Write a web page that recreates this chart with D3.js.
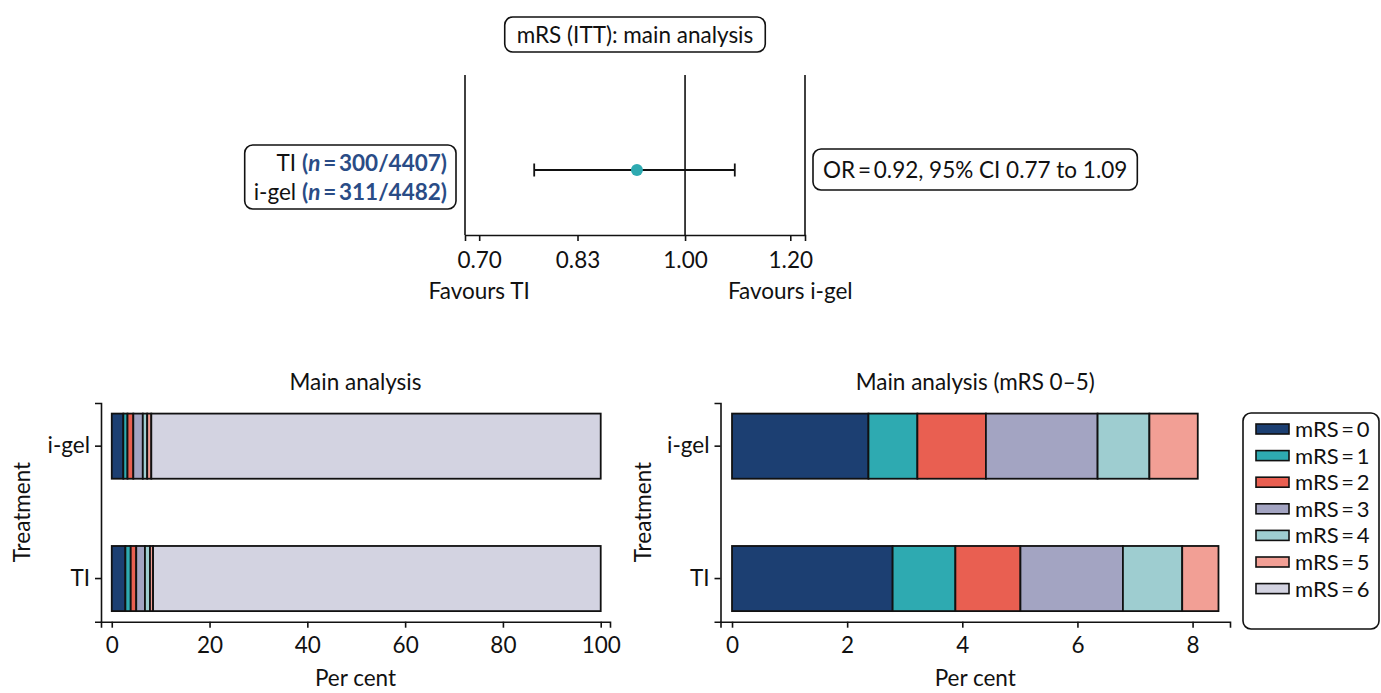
<!DOCTYPE html>
<html>
<head>
<meta charset="utf-8">
<script src="https://cdn.jsdelivr.net/npm/d3@7"></script>
<style>
  body { margin: 0; background: #fff; }
  svg text { font-family: Lato, "Open Sans", sans-serif; fill: #111; }
</style>
</head>
<body>
<script>
'use strict';

// forest plot values
const forestTicks = [0.70, 0.83, 1.00, 1.20];
const forestSides = ['Favours TI', 'Favours i-gel'];
const oddsRatio = [0.92];
const ciLow = [0.77];
const ciHigh = [1.09];

// stacked bar values (per cent)
const groups = ['i-gel', 'TI'];
const mrsLabels = ['mRS\u2009=\u20090', 'mRS\u2009=\u20091', 'mRS\u2009=\u20092', 'mRS\u2009=\u20093',
  'mRS\u2009=\u20094', 'mRS\u2009=\u20095', 'mRS\u2009=\u20096'];
const igelPct = [2.37, 0.85, 1.19, 1.94, 0.90, 0.84, 91.91];
const tiPct = [2.79, 1.09, 1.13, 1.78, 1.03, 0.63, 91.55];
const mainTicks = [0, 20, 40, 60, 80, 100];
const zoomTicks = [0, 2, 4, 6, 8];

const colours = ['#1c3f72', '#2eaab1', '#e95f51', '#a3a4c2', '#9ecdd0', '#f29f95', '#d3d3e1'];

const W = 1381, H = 693;
const FS = 22.5;

const svg = d3.select('body').append('svg')
  .attr('width', W)
  .attr('height', H);

function roundBox(g, pad) {
  const bb = g.node().getBBox();
  g.insert('rect', ':first-child')
    .attr('x', bb.x - pad[0]).attr('y', bb.y - pad[1])
    .attr('width', bb.width + 2 * pad[0]).attr('height', bb.height + 2 * pad[1])
    .attr('rx', 8)
    .attr('fill', '#fff').attr('stroke', '#111').attr('stroke-width', 1.6);
}

// ---------- forest plot ----------
const fx = d3.scaleLog().domain([0.683, 1.231]).range([465, 805]);
const fTop = 75, fBot = 235, fMid = 170;
const forest = svg.append('g').attr('id', 'forest');

forest.append('g')
  .attr('transform', `translate(0,${fBot})`)
  .call(d3.axisBottom(fx).tickValues(forestTicks).tickFormat(d3.format('.2f')).tickSizeOuter(0).tickSize(6).tickPadding(11))
  .call(g => g.selectAll('text').attr('font-size', FS).attr('font-family', 'Lato'))
  .call(g => g.selectAll('line, path').attr('stroke', '#111').attr('stroke-width', 1.6));

forest.selectAll('.spine')
  .data([fx.domain()[0], 1.0, fx.domain()[1]])
  .enter().append('line')
  .attr('x1', d => fx(d)).attr('x2', d => fx(d))
  .attr('y1', fTop).attr('y2', fBot)
  .attr('stroke', '#111').attr('stroke-width', 1.6);

forest.selectAll('.side')
  .data(forestSides)
  .enter().append('text')
  .attr('x', (d, i) => fx(i === 0 ? forestTicks[0] : forestTicks[forestTicks.length - 1]))
  .attr('y', 299)
  .attr('text-anchor', 'middle')
  .attr('font-size', FS)
  .text(d => d);

forest.append('line')
  .attr('x1', fx(ciLow[0])).attr('x2', fx(ciHigh[0]))
  .attr('y1', fMid).attr('y2', fMid)
  .attr('stroke', '#111').attr('stroke-width', 1.8);
forest.selectAll('.cap')
  .data([ciLow[0], ciHigh[0]])
  .enter().append('line')
  .attr('x1', d => fx(d)).attr('x2', d => fx(d))
  .attr('y1', fMid - 6.5).attr('y2', fMid + 6.5)
  .attr('stroke', '#111').attr('stroke-width', 1.8);
forest.append('circle')
  .attr('cx', fx(oddsRatio[0])).attr('cy', fMid).attr('r', 6)
  .attr('fill', colours[1]);

// title box
const titleG = svg.append('g');
titleG.append('text').attr('x', 635).attr('y', 43).attr('text-anchor', 'middle')
  .attr('font-size', FS).text('mRS (ITT): main analysis');
roundBox(titleG, [12, 4]);

// n box
const nG = svg.append('g');
const nLines = [['TI ', '300/4407'], ['i-gel ', '311/4482']];
nLines.forEach((l, i) => {
  const t = nG.append('text').attr('x', 447).attr('y', 171 + i * 29)
    .attr('text-anchor', 'end').attr('font-size', FS);
  t.append('tspan').text(l[0]);
  const b = t.append('tspan').attr('font-weight', 'bold').style('fill', '#2a4c86');
  b.append('tspan').text('(');
  b.append('tspan').attr('font-style', 'italic').text('n');
  b.append('tspan').text('\u2009=\u2009' + l[1] + ')');
});
roundBox(nG, [9, 4]);

// OR box
const orG = svg.append('g');
orG.append('text').attr('x', 823).attr('y', 178).attr('font-size', FS)
  .text(`OR\u2009=\u2009${oddsRatio[0].toFixed(2)}, 95% CI ${ciLow[0].toFixed(2)} to ${ciHigh[0].toFixed(2)}`);
roundBox(orG, [10, 7]);

// ---------- stacked bars ----------
const rows = [igelPct, tiPct];

function stackedChart(opts) {
  const g = svg.append('g').attr('id', opts.id);
  const x = d3.scaleLinear().domain(opts.xDomain).range(opts.xRange);
  const y = d3.scaleBand().domain(groups).range([403, 621.7]).paddingInner(0.508).paddingOuter(0.08);

  const segs = [];
  rows.forEach((vals, gi) => {
    let acc = 0;
    vals.slice(0, opts.levels).forEach((v, k) => {
      segs.push({ group: groups[gi], k: k, x0: acc, x1: acc + v });
      acc += v;
    });
  });

  g.selectAll('rect.seg')
    .data(segs)
    .enter().append('rect')
    .attr('class', 'seg')
    .attr('x', d => x(d.x0))
    .attr('width', d => x(d.x1) - x(d.x0))
    .attr('y', d => y(d.group))
    .attr('height', y.bandwidth())
    .attr('fill', d => colours[d.k])
    .attr('stroke', '#111')
    .attr('stroke-width', 1.8);

  g.append('g')
    .attr('transform', `translate(0,${y.range()[1]})`)
    .call(d3.axisBottom(x).tickValues(opts.ticks).tickSizeOuter(0).tickSize(6).tickPadding(9))
    .call(a => a.selectAll('text').attr('font-size', FS).attr('font-family', 'Lato'))
    .call(a => a.selectAll('line, path').attr('stroke', '#111').attr('stroke-width', 1.6));

  g.append('g')
    .attr('transform', `translate(${opts.xRange[0]},0)`)
    .call(d3.axisLeft(y).tickSizeOuter(0).tickSize(6).tickPadding(5))
    .call(a => a.selectAll('text').attr('font-size', FS).attr('font-family', 'Lato'))
    .call(a => a.selectAll('line, path').attr('stroke', '#111').attr('stroke-width', 1.6));

  const cx = (opts.xRange[0] + opts.xRange[1]) / 2;
  g.append('text').attr('x', cx).attr('y', 390).attr('text-anchor', 'middle')
    .attr('font-size', FS).text(opts.title);
  g.append('text').attr('x', cx).attr('y', 686).attr('text-anchor', 'middle')
    .attr('font-size', FS).text('Per cent');
  g.append('text')
    .attr('transform', `translate(${opts.yLabelX},512) rotate(-90)`)
    .attr('text-anchor', 'middle')
    .attr('font-size', FS).text('Treatment');
}

stackedChart({
  id: 'main', xDomain: [-2.2, 101.9], xRange: [101, 610], ticks: mainTicks,
  levels: 7, title: 'Main analysis', yLabelX: 30
});
stackedChart({
  id: 'zoomed', xDomain: [-0.2, 8.65], xRange: [720.5, 1230], ticks: zoomTicks,
  levels: 6, title: 'Main analysis (mRS 0\u20135)', yLabelX: 651
});

// legend
const leg = svg.append('g').attr('id', 'legend');
const legItems = leg.selectAll('g.item')
  .data(mrsLabels)
  .enter().append('g')
  .attr('transform', (d, i) => `translate(1256,${429 + i * 26.6})`);
legItems.append('rect')
  .attr('x', 0).attr('y', -5).attr('width', 33).attr('height', 10)
  .attr('fill', (d, i) => colours[i])
  .attr('stroke', '#111').attr('stroke-width', 1.6);
legItems.append('text')
  .attr('x', 39).attr('y', 8)
  .attr('font-size', 22)
  .text(d => d);
leg.insert('rect', ':first-child')
  .attr('x', 1243).attr('y', 413).attr('width', 136).attr('height', 216)
  .attr('rx', 8).attr('fill', '#fff').attr('stroke', '#111').attr('stroke-width', 1.6);
</script>
</body>
</html>
